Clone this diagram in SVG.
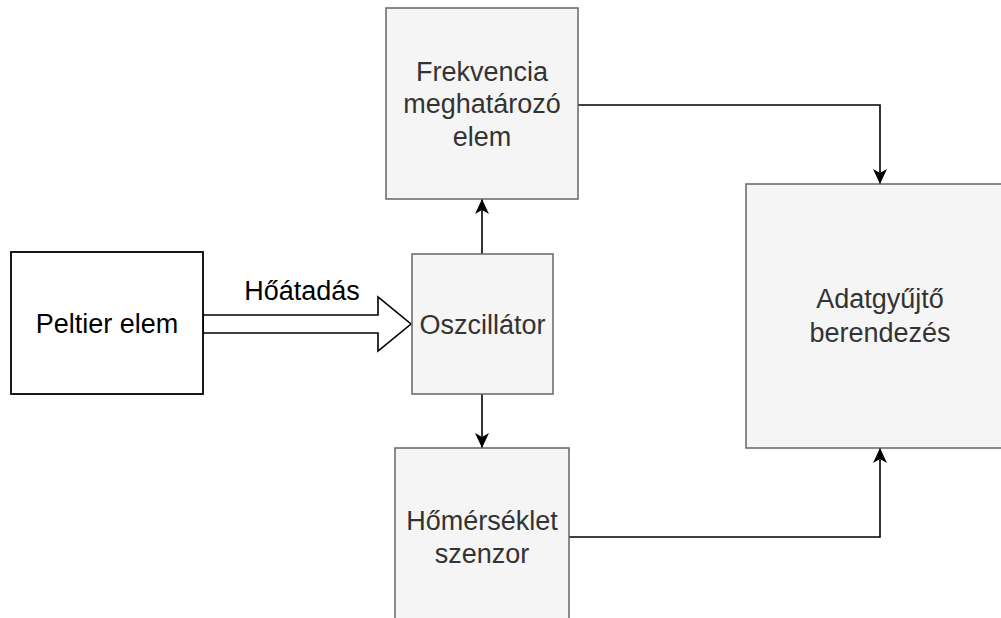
<svg xmlns="http://www.w3.org/2000/svg" width="1001" height="618" viewBox="0 0 1001 618">
  <style>
    .box { fill: #f5f5f5; stroke: #666666; stroke-width: 1.5; }
    .plain { fill: #ffffff; stroke: #000000; stroke-width: 1.8; }
    .lbl { font-family: "Liberation Sans", Arial, sans-serif; font-size: 27px; text-anchor: middle; fill: #333333; }
    .dark { fill: #000000; }
    .edge { fill: none; stroke: #000000; stroke-width: 1.6; }
  </style>
  <defs>
    <marker id="arrow" markerUnits="userSpaceOnUse" markerWidth="15" markerHeight="14" viewBox="0 0 15 14" refX="15" refY="7" orient="auto">
      <path d="M0,0 L15,7 L0,14 L4,7 z" fill="#000000"/>
    </marker>
  </defs>

  <rect width="1001" height="618" fill="#ffffff"/>

  <!-- connectors -->
  <g id="connectors">
    <path class="edge" d="M482,254 L482,199" marker-end="url(#arrow)"/>
    <path class="edge" d="M482,394 L482,448" marker-end="url(#arrow)"/>
    <path class="edge" d="M578,105 L880,105 L880,184" marker-end="url(#arrow)"/>
    <path class="edge" d="M569,537 L880,537 L880,448" marker-end="url(#arrow)"/>
    <!-- hollow heat-transfer arrow -->
    <polygon points="203,315 378,315 378,297 411,324 378,351 378,333 203,333" fill="#ffffff" stroke="#000000" stroke-width="1.6" stroke-linejoin="miter"/>
    <text class="lbl dark" x="302" y="300">Hőátadás</text>
  </g>

  <g id="peltier">
    <rect class="plain" x="11" y="252" width="192" height="142"/>
    <text class="lbl dark" x="107" y="333">Peltier elem</text>
  </g>

  <g id="oszcillator">
    <rect class="box" x="412" y="254" width="141" height="140"/>
    <text class="lbl" x="482.5" y="334">Oszcillátor</text>
  </g>

  <g id="frekvencia">
    <rect class="box" x="386" y="8" width="192" height="191"/>
    <text class="lbl" x="482" y="81">Frekvencia</text>
    <text class="lbl" x="482" y="113">meghatározó</text>
    <text class="lbl" x="482" y="146">elem</text>
  </g>

  <g id="homerseklet">
    <rect class="box" x="395" y="448" width="174" height="178"/>
    <text class="lbl" x="482" y="530">Hőmérséklet</text>
    <text class="lbl" x="482" y="563">szenzor</text>
  </g>

  <g id="adatgyujto">
    <rect class="box" x="746" y="184" width="270" height="264"/>
    <text class="lbl" x="880" y="308">Adatgyűjtő</text>
    <text class="lbl" x="880" y="342">berendezés</text>
  </g>
</svg>
